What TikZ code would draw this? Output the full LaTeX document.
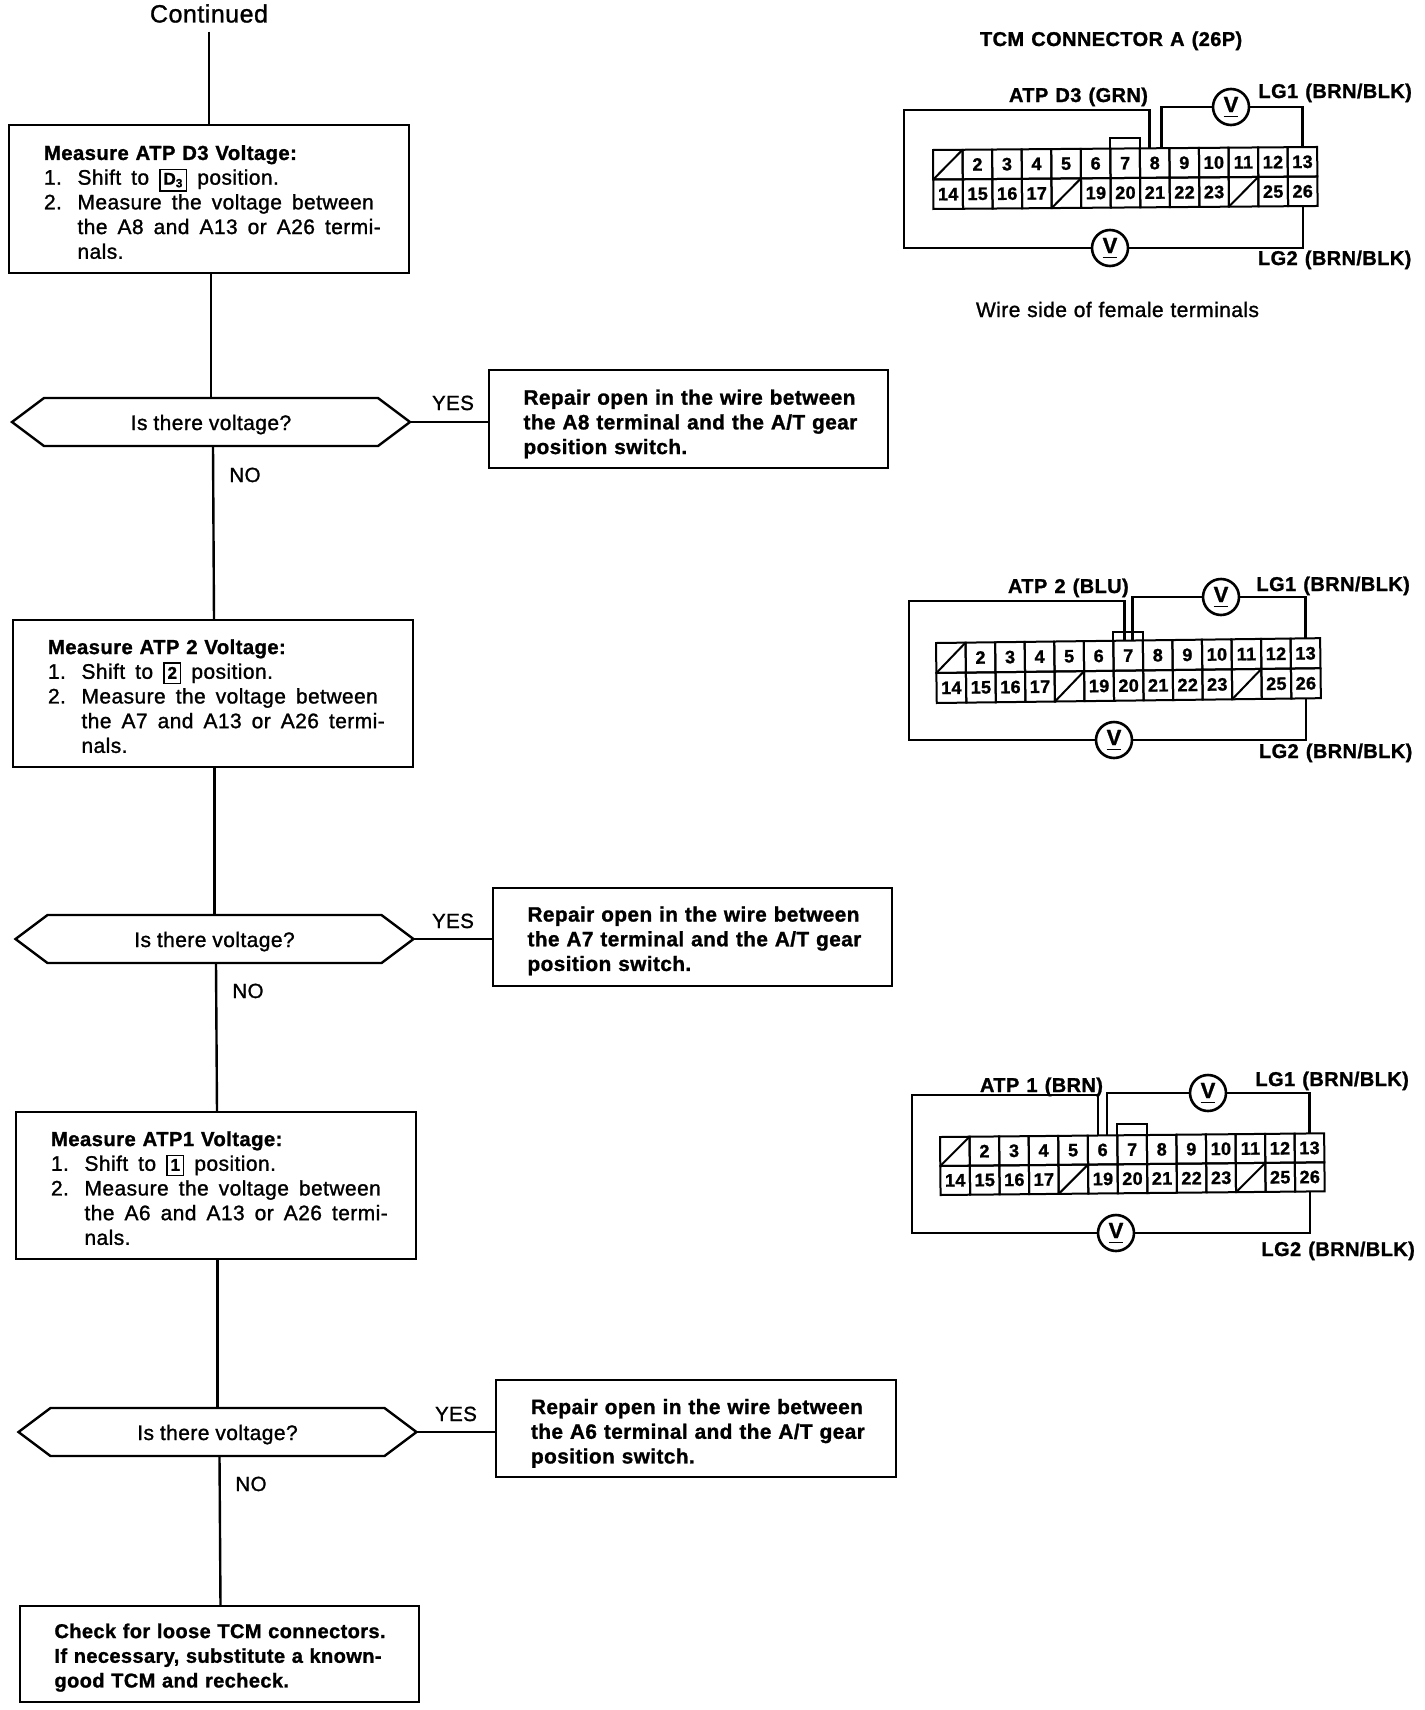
\documentclass[tikz,border=0pt]{standalone}
\usepackage{fontspec}
\setmainfont{Liberation Sans}
\newfontfamily\hexf[FakeBold=1.2,LetterSpace=2]{Liberation Sans}
\newfontfamily\boldf[FakeBold=1.2,LetterSpace=2,WordSpace=1.2]{Liberation Sans}
\newcommand{\bodyfont}{\hexf\fontsize{21}{24.7}\selectfont}
\newcommand{\qfont}{\hexf\fontsize{21}{24.7}\selectfont\setlength{\spaceskip}{5.9pt}}
\newcommand{\widefont}{\hexf\fontsize{21}{24}\selectfont\setlength{\spaceskip}{6.8pt}}
\newcommand{\headfont}{\boldf\bfseries\fontsize{20.8}{24.7}\selectfont}
\newcommand{\titlefont}{\boldf\bfseries\fontsize{20.3}{24.7}\selectfont\setlength{\spaceskip}{6.8pt}}
\newcommand{\labfont}{\boldf\bfseries\fontsize{20}{24}\selectfont}
\newcommand{\posbox}[1]{{\fboxsep=3pt\fboxrule=1.4pt\fbox{\boldf\bfseries\fontsize{17}{17}\selectfont\rule[-1pt]{0pt}{12pt}#1}}}
\newcommand{\li}[1]{\makebox[33.5pt][l]{#1}}
\newcommand{\vsym}{\boldf\bfseries\fontsize{22}{22}\selectfont\underline{\rule[-3pt]{0pt}{1pt}V}}
\newcommand{\boxtext}[2]{\hspace*{17.5pt}\raisebox{#1}[0pt][0pt]{\begin{tabular}{@{}l@{}}#2\end{tabular}}}
\newcommand{\listtext}[2]{\setlength{\spaceskip}{10pt}\boxtext{#1}{#2}}
\newcommand{\hexpath}[1]{\draw[flow] (#1.west) -- ([xshift=32pt]#1.north west) -- ([xshift=-32pt]#1.north east) -- (#1.east)
   -- ([xshift=-32pt]#1.south east) -- ([xshift=32pt]#1.south west) -- cycle;}
\tikzset{
  wire/.style={line width=2.6pt,line join=miter},
  flow/.style={line width=2.4pt},
  box/.style={draw,line width=2.4pt,rectangle,inner sep=0pt,outer sep=0pt,align=left,anchor=north west},
  hex/.style={rectangle,minimum width=398pt,minimum height=48pt,inner sep=0pt,outer sep=0pt,font=\qfont},
  tag/.style={inner sep=0pt,outer sep=0pt,font=\hexf\fontsize{20.5}{24}\selectfont,anchor=base},
  lab/.style={inner sep=0pt,outer sep=0pt,font=\labfont,anchor=base west},
  cellbox/.style={draw,line width=2pt,rectangle,inner sep=0pt,outer sep=0pt,transform shape,
     font=\boldf\bfseries\fontsize{18}{18}\selectfont},
  meter/.style={draw,circle,line width=2.6pt,minimum size=36pt,inner sep=0pt,outer sep=0pt},
  pinloop/.style={line width=2pt}
}
\newcommand{\connector}[5]{% prefix, x, y, angle, row height
  \begin{scope}[shift={(#2,#3)},rotate=#4]
    \foreach \i in {1,...,13}
      \node[cellbox,minimum width=29.55pt,minimum height=#5pt] (#1\i) at ({(\i-0.5)*29.55},{0.5*#5}) {\ifnum\i=1 \else\i\fi};
    \foreach \i in {14,...,26}
      \node[cellbox,minimum width=29.55pt,minimum height=#5pt] (#1\i) at ({(\i-13.5)*29.55},{1.5*#5})
        {\ifnum\i=18 \else\ifnum\i=24 \else\i\fi\fi};
    \draw[pinloop] (#1\string1.south west) -- (#1\string1.north east);
    \draw[pinloop] (#118.south west) -- (#118.north east);
    \draw[pinloop] (#124.south west) -- (#124.north east);
  \end{scope}
}
\begin{document}
\begin{tikzpicture}[x=1pt,y=-1pt]
\useasboundingbox (0,0) rectangle (1424,1710);
\fill[white] (0,0) rectangle (1424,1710);

% ---------- flow column ----------
\node[inner sep=0pt,font=\hexf\fontsize{25}{25}\selectfont,text height=18pt,text depth=9pt] (cont) at (209,18) {Continued};

\node[box,minimum width=400pt,minimum height=148pt,text width=365pt,font=\bodyfont] (m1) at (9,125)
 {\listtext{-10.6pt}{{\titlefont Measure ATP D3 Voltage:}\\
 \li{1.}Shift to \posbox{D\textsubscript{3}} position.\\
 \li{2.}Measure the voltage between\\
 \li{}the A8 and A13 or A26 termi-\\
 \li{}nals.}};
\node[hex] (h1) at (211,422) {\raisebox{-8pt}[0pt][0pt]{Is there voltage?}};
\hexpath{h1}
\node[box,minimum width=399pt,minimum height=98pt,text width=365pt,font=\headfont] (r1) at (489,370)
 {\boxtext{-10.6pt}{Repair open in the wire between\\the A8 terminal and the A/T gear\\position switch.}};
\node[tag] (y1) at (453,410) {YES};
\node[tag] (n1) at (245,482) {NO};

\node[box,minimum width=400pt,minimum height=147pt,text width=365pt,font=\bodyfont] (m2) at (13,620)
 {\listtext{-10.2pt}{{\titlefont Measure ATP 2 Voltage:}\\
 \li{1.}Shift to \posbox{2} position.\\
 \li{2.}Measure the voltage between\\
 \li{}the A7 and A13 or A26 termi-\\
 \li{}nals.}};
\node[hex] (h2) at (214.5,939) {\raisebox{-8pt}[0pt][0pt]{Is there voltage?}};
\hexpath{h2}
\node[box,minimum width=399pt,minimum height=98pt,text width=365pt,font=\headfont] (r2) at (493,888)
 {\boxtext{-9.5pt}{Repair open in the wire between\\the A7 terminal and the A/T gear\\position switch.}};
\node[tag] (y2) at (453,928) {YES};
\node[tag] (n2) at (248,998) {NO};

\node[box,minimum width=400pt,minimum height=147pt,text width=365pt,font=\bodyfont] (m3) at (16,1112)
 {\listtext{-10.2pt}{{\titlefont Measure ATP1 Voltage:}\\
 \li{1.}Shift to \posbox{1} position.\\
 \li{2.}Measure the voltage between\\
 \li{}the A6 and A13 or A26 termi-\\
 \li{}nals.}};
\node[hex] (h3) at (217.5,1432) {\raisebox{-8pt}[0pt][0pt]{Is there voltage?}};
\hexpath{h3}
\node[box,minimum width=400pt,minimum height=97pt,text width=365pt,font=\headfont] (r3) at (496,1380)
 {\boxtext{-10.5pt}{Repair open in the wire between\\the A6 terminal and the A/T gear\\position switch.}};
\node[tag] (y3) at (456,1421) {YES};
\node[tag] (n3) at (251,1491) {NO};

\node[box,minimum width=399pt,minimum height=96pt,text width=365pt,font=\boldf\bfseries\fontsize{20}{24.7}\selectfont] (e) at (20,1606)
 {\boxtext{-9pt}{Check for loose TCM connectors.\\If necessary, substitute a known-\\good TCM and recheck.}};

\draw[flow] (cont.south) -- (cont.south |- m1.north);
\draw[flow] ([xshift=2pt]m1.south) -- (h1.north);
\draw[flow] ([xshift=2pt]h1.south) -- ([xshift=1pt]m2.north);
\draw[flow] ([xshift=1.5pt]m2.south) -- (h2.north);
\draw[flow] ([xshift=1.5pt]h2.south) -- ([xshift=1pt]m3.north);
\draw[flow] ([xshift=1.5pt]m3.south) -- (h3.north);
\draw[flow] ([xshift=2pt]h3.south) -- ([xshift=1pt]e.north);
\draw[flow] (h1.east) -- (h1.east -| r1.west);
\draw[flow] (h2.east) -- (h2.east -| r2.west);
\draw[flow] (h3.east) -- (h3.east -| r3.west);

% ---------- connector 1 ----------
\node[lab] (t0) at (980,46) {TCM CONNECTOR A (26P)};
\node[lab] (a0) at (1009,102) {ATP D3 (GRN)};
\node[lab] (a1) at (1258.5,98) {LG1 (BRN/BLK)};
\node[lab] (a2) at (1258,265) {LG2 (BRN/BLK)};
\node[tag,anchor=base,font=\widefont] (w0) at (1117.5,317) {Wire side of female terminals};
\connector{a}{933}{150}{0.45}{29.5}
\coordinate (aNW) at (904,110);
\node[meter] (aVt) at (1231,107) {\vsym};
\node[meter] (aVb) at (1110,248) {\vsym};
\draw[wire] ([xshift=-5pt]a8.north) |- (aNW) |- (aVb.west);
\draw[wire] ([xshift=7pt]a8.north) |- (aVt.west);
\draw[wire] (aVt.east) -| (a13.north);
\draw[wire] (aVb.east) -| (a26.south);
\draw[pinloop] (a7.north west) -- ++(0,-11) -| (a7.north east);

% ---------- connector 2 ----------
\node[lab] (b0) at (1008,593) {ATP 2 (BLU)};
\node[lab] (b1) at (1256.5,591) {LG1 (BRN/BLK)};
\node[lab] (b2) at (1259,758) {LG2 (BRN/BLK)};
\connector{b}{936}{643}{0.72}{30}
\coordinate (bNW) at (909,601);
\node[meter] (bVt) at (1221,597) {\vsym};
\node[meter] (bVb) at (1114,740) {\vsym};
\draw[wire] ([xshift=-3.3pt]b7.north) |- (bNW) |- (bVb.west);
\draw[wire] ([xshift=4.4pt]b7.north) |- (bVt.west);
\draw[wire] (bVt.east) -| (b13.north);
\draw[wire] (bVb.east) -| (b26.south);
\draw[pinloop] (b7.north west) -- ++(0,-9) -| (b7.north east);

% ---------- connector 3 ----------
\node[lab] (c0) at (980,1092) {ATP 1 (BRN)};
\node[lab] (c1) at (1255.5,1086) {LG1 (BRN/BLK)};
\node[lab] (c2) at (1261.5,1256) {LG2 (BRN/BLK)};
\connector{c}{940}{1137}{0.55}{29}
\coordinate (cNW) at (912,1095);
\node[meter] (cVt) at (1208,1093) {\vsym};
\node[meter] (cVb) at (1116,1233) {\vsym};
\draw[wire] ([xshift=-4.4pt]c6.north) |- (cNW) |- (cVb.west);
\draw[wire] ([xshift=4.4pt]c6.north) |- (cVt.west);
\draw[wire] (cVt.east) -| (c13.north);
\draw[wire] (cVb.east) -| (c26.south);
\draw[pinloop] (c7.north west) -- ++(0,-11) -| (c7.north east);
\end{tikzpicture}
\end{document}
